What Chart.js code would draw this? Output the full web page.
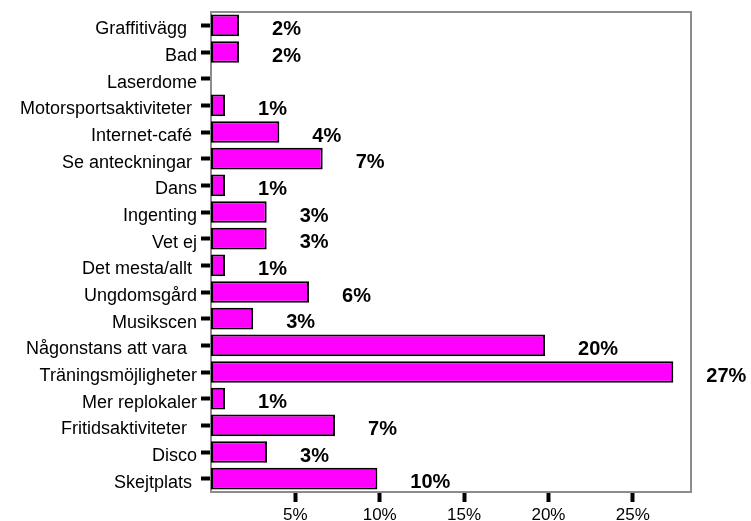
<!DOCTYPE html>
<html>
<head>
<meta charset="utf-8">
<script src="https://cdn.jsdelivr.net/npm/chart.js@4"></script>
<style>
  html, body { margin: 0; padding: 0; background: #fff; }
  canvas { display: block; }
</style>
</head>
<body>
<canvas id="chart" width="751" height="521"></canvas>
<script>
// --- DATA ---
const categories = [
  'Graffitivägg  ', 'Bad', 'Laserdome', 'Motorsportsaktiviteter ', 'Internet-café ',
  'Se anteckningar ', 'Dans', 'Ingenting', 'Vet ej', 'Det mesta/allt ',
  'Ungdomsgård', 'Musikscen', 'Någonstans att vara  ', 'Träningsmöjligheter',
  'Mer replokaler', 'Fritidsaktiviteter  ', 'Disco', 'Skejtplats '
];
const percentValues = [
  1.66, 1.66, 0, 0.83, 4.05,
  6.62, 0.83, 3.30, 3.30, 0.83,
  5.81, 2.5, 19.8, 27.4,
  0.83, 7.35, 3.32, 9.86
];
const xTickValues = [5, 10, 15, 20, 25];
const xMax = 28.45;

const FONT = "'Liberation Sans', Arial, sans-serif";

// frame round the plot area (grey box)
const framePlugin = {
  id: 'frame',
  beforeDatasetsDraw(chart) {
    const a = chart.chartArea;
    const ctx = chart.ctx;
    ctx.save();
    ctx.strokeStyle = '#8c8c8c';
    ctx.lineWidth = 2;
    ctx.strokeRect(a.left, a.top, a.right - a.left, a.bottom - a.top);
    ctx.restore();
  }
};

// bold percentage labels right of each bar
const valueLabels = {
  id: 'valueLabels',
  afterDatasetsDraw(chart) {
    const ctx = chart.ctx;
    const meta = chart.getDatasetMeta(0);
    ctx.save();
    ctx.font = 'bold 20px ' + FONT;
    ctx.fillStyle = '#000';
    ctx.textAlign = 'left';
    ctx.textBaseline = 'middle';
    meta.data.forEach((bar, i) => {
      const v = percentValues[i];
      if (!v) return;
      ctx.fillText(Math.round(v) + '%', bar.x + 33, bar.y + 4);
    });
    ctx.restore();
  }
};

new Chart(document.getElementById('chart'), {
  type: 'bar',
  data: {
    labels: categories,
    datasets: [{
      data: percentValues,
      backgroundColor: '#ff00ff',
      borderColor: '#000',
      borderWidth: 2,
      borderSkipped: false,
      barPercentage: 0.815,
      categoryPercentage: 1
    }]
  },
  options: {
    indexAxis: 'y',
    responsive: false,
    animation: false,
    devicePixelRatio: 1,
    layout: { padding: { top: 12, right: 60, left: 0, bottom: 0 } },
    plugins: {
      legend: { display: false },
      tooltip: { enabled: false }
    },
    scales: {
      x: {
        min: 0,
        max: xMax,
        afterBuildTicks: (scale) => { scale.ticks = xTickValues.map(v => ({ value: v })); },
        afterFit: (scale) => { scale.height = 29; scale.paddingLeft = 0; scale.paddingRight = 0; },
        border: { display: false },
        grid: {
          drawOnChartArea: false,
          drawTicks: true,
          tickLength: 10,
          tickWidth: 4,
          tickColor: '#000'
        },
        ticks: {
          padding: 3,
          maxRotation: 0,
          autoSkip: false,
          color: '#000',
          font: { family: FONT, size: 17 },
          callback: (v) => v + '%'
        }
      },
      y: {
        afterFit: (scale) => { scale.width = 211; scale.paddingTop = 0; scale.paddingBottom = 0; },
        border: { display: false },
        grid: {
          offset: false,
          drawOnChartArea: false,
          drawTicks: true,
          tickLength: 10,
          tickWidth: 4,
          tickColor: '#000'
        },
        ticks: {
          padding: 4,
          labelOffset: 4,
          autoSkip: false,
          color: '#000',
          font: { family: FONT, size: 18 }
        }
      }
    }
  },
  plugins: [framePlugin, valueLabels]
});
</script>
</body>
</html>
